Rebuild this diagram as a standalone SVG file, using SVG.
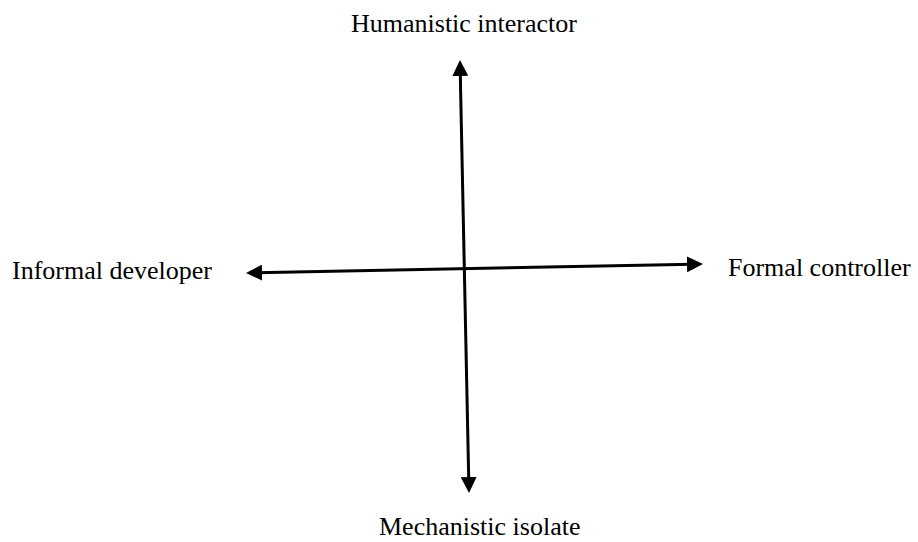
<svg xmlns="http://www.w3.org/2000/svg" width="918" height="542" viewBox="0 0 918 542">
  <style>
    .lbl { font-family: "Liberation Serif", "Times New Roman", serif; font-size: 26px; fill: #000; }
    .axis { stroke: #000; stroke-width: 3; fill: none; marker-start: url(#head); marker-end: url(#head); }
  </style>
  <defs>
    <marker id="head" markerUnits="userSpaceOnUse" markerWidth="16" markerHeight="16" viewBox="0 0 16 16" refX="6" refY="8" orient="auto-start-reverse">
      <path d="M0,0 L16,8 L0,16 Z" fill="#000"/>
    </marker>
  </defs>
  <rect width="918" height="542" fill="#fff"/>
  <g id="connectors">
    <line class="axis" x1="460.2" y1="70" x2="468.8" y2="483"/>
    <line class="axis" x1="256" y1="272.8" x2="693" y2="264.2"/>
  </g>
  <g id="humanistic-interactor"><text class="lbl" x="351" y="32">Humanistic interactor</text></g>
  <g id="informal-developer"><text class="lbl" x="12" y="279">Informal developer</text></g>
  <g id="formal-controller"><text class="lbl" x="728" y="276">Formal controller</text></g>
  <g id="mechanistic-isolate"><text class="lbl" x="379" y="535">Mechanistic isolate</text></g>
</svg>
